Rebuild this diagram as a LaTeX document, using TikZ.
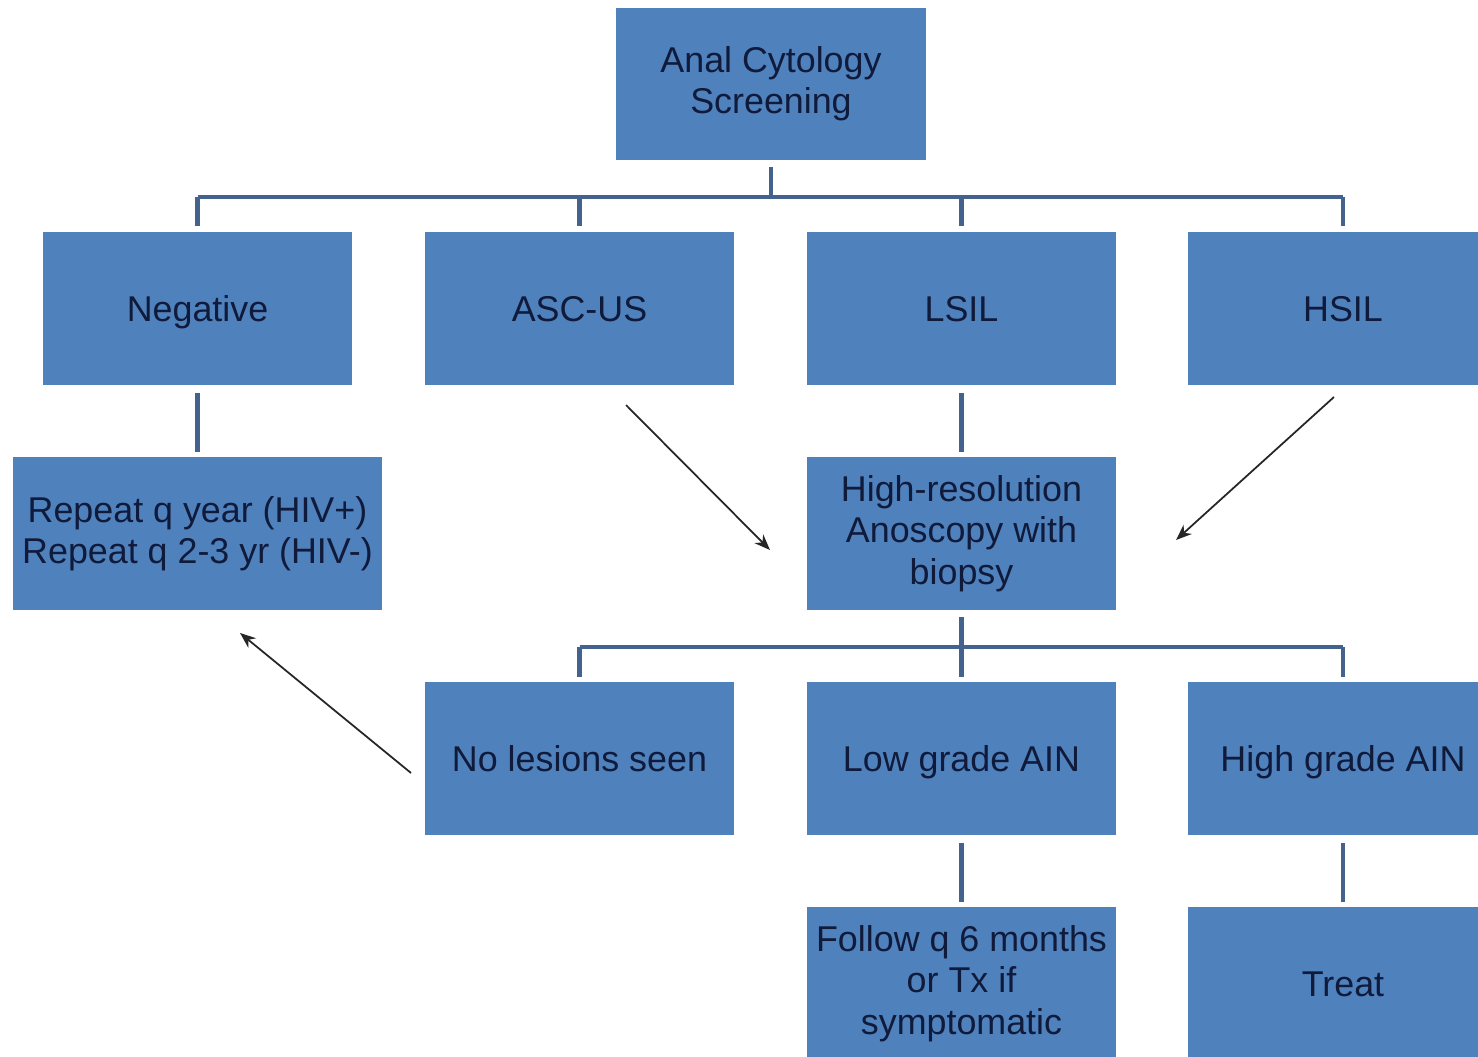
\documentclass[tikz,border=0pt]{standalone}
\usepackage{fontspec}
\setmainfont{Liberation Sans}
\usepackage{tikz}
\usetikzlibrary{arrows.meta}
\usepackage{xcolor}
\definecolor{boxblue}{RGB}{79,129,189}
\definecolor{textnavy}{RGB}{16,26,58}
\definecolor{linkblue}{RGB}{68,98,142}

\begin{document}
\begin{tikzpicture}[x=0.02cm,y=-0.02cm,
    boxbase/.style={fill=boxblue,draw=none,minimum width=6.2cm,minimum height=3.06cm,
      text=textnavy,inner sep=0pt,font=\fontsize{20.4}{23.5}\selectfont},
    box/.style={boxbase,align=center},
    oneline/.style={boxbase,text height=14.6pt,text depth=0pt},
    conn/.style={draw=linkblue,line width=2.4pt},
    link/.style={conn,shorten <=0.16cm,shorten >=0.1cm},
    pointer/.style={draw=black!85,line width=1pt,-{Stealth[length=9pt,width=7pt]}}]
    \useasboundingbox (0,0) rectangle (1478,1057);
    \clip (0,0) rectangle (1478,1057);
    \fill[white] (0,0) rectangle (1478,1057);

    \node[box,minimum height=3.04cm] (screen) at (771,84) {Anal Cytology\\Screening};

    \node[oneline] (neg) at (197.5,308.5) {Negative};
    \node[oneline] (ascus) at (579.5,308.5) {ASC-US};
    \node[oneline] (lsil) at (961.5,308.5) {LSIL};
    \node[oneline] (hsil) at (1343,308.5) {HSIL};

    \node[box,minimum width=7.38cm] (repeat) at (197.5,533.5) {Repeat q year (HIV+)\\Repeat q 2-3 yr (HIV-)};
    \node[box] (hra) at (961.5,533.5) {High-resolution\\Anoscopy with\\biopsy};

    \node[oneline] (nolesion) at (579.5,758.5) {No lesions seen};
    \node[oneline] (lowgrade) at (961.5,758.5) {Low grade AIN};
    \node[oneline] (highgrade) at (1343,758.5) {High grade AIN};

    \node[box] (follow) at (961.5,983.5) {Follow q 6 months\\or Tx if\\symptomatic};
    \node[oneline] (treat) at (1343,983.5) {Treat};

    \coordinate (bar) at (0,197);
    \coordinate (bartwo) at (0,647);

    \draw[conn] ([yshift=-0.14cm]screen.south) -- (screen.south |- bar);
    \draw[conn] (neg.north |- bar) -- (hsil.north |- bar);
    \foreach \n in {neg,ascus,lsil,hsil}
      \draw[conn] (\n.north |- bar) -- ([yshift=0.12cm]\n.north);

    \draw[link] (neg) -- (repeat);
    \draw[link] (lsil) -- (hra);
    \draw[conn] ([yshift=-0.14cm]hra.south) -- ([yshift=0.1cm]lowgrade.north);
    \draw[conn] (nolesion.north |- bartwo) -- (highgrade.north |- bartwo);
    \foreach \n in {nolesion,highgrade}
      \draw[conn] (\n.north |- bartwo) -- ([yshift=0.1cm]\n.north);
    \draw[link] (lowgrade) -- (follow);
    \draw[link] (highgrade) -- (treat);

    \coordinate (ascusfrom) at (626,405);
    \coordinate (ascusto) at (770,550);
    \coordinate (hsilfrom) at (1334,397);
    \coordinate (hsilto) at (1176,540);
    \coordinate (nofrom) at (411,773);
    \coordinate (noto) at (240,633);
    \draw[pointer] (ascusfrom) -- (ascusto);
    \draw[pointer] (hsilfrom) -- (hsilto);
    \draw[pointer] (nofrom) -- (noto);
\end{tikzpicture}
\end{document}
